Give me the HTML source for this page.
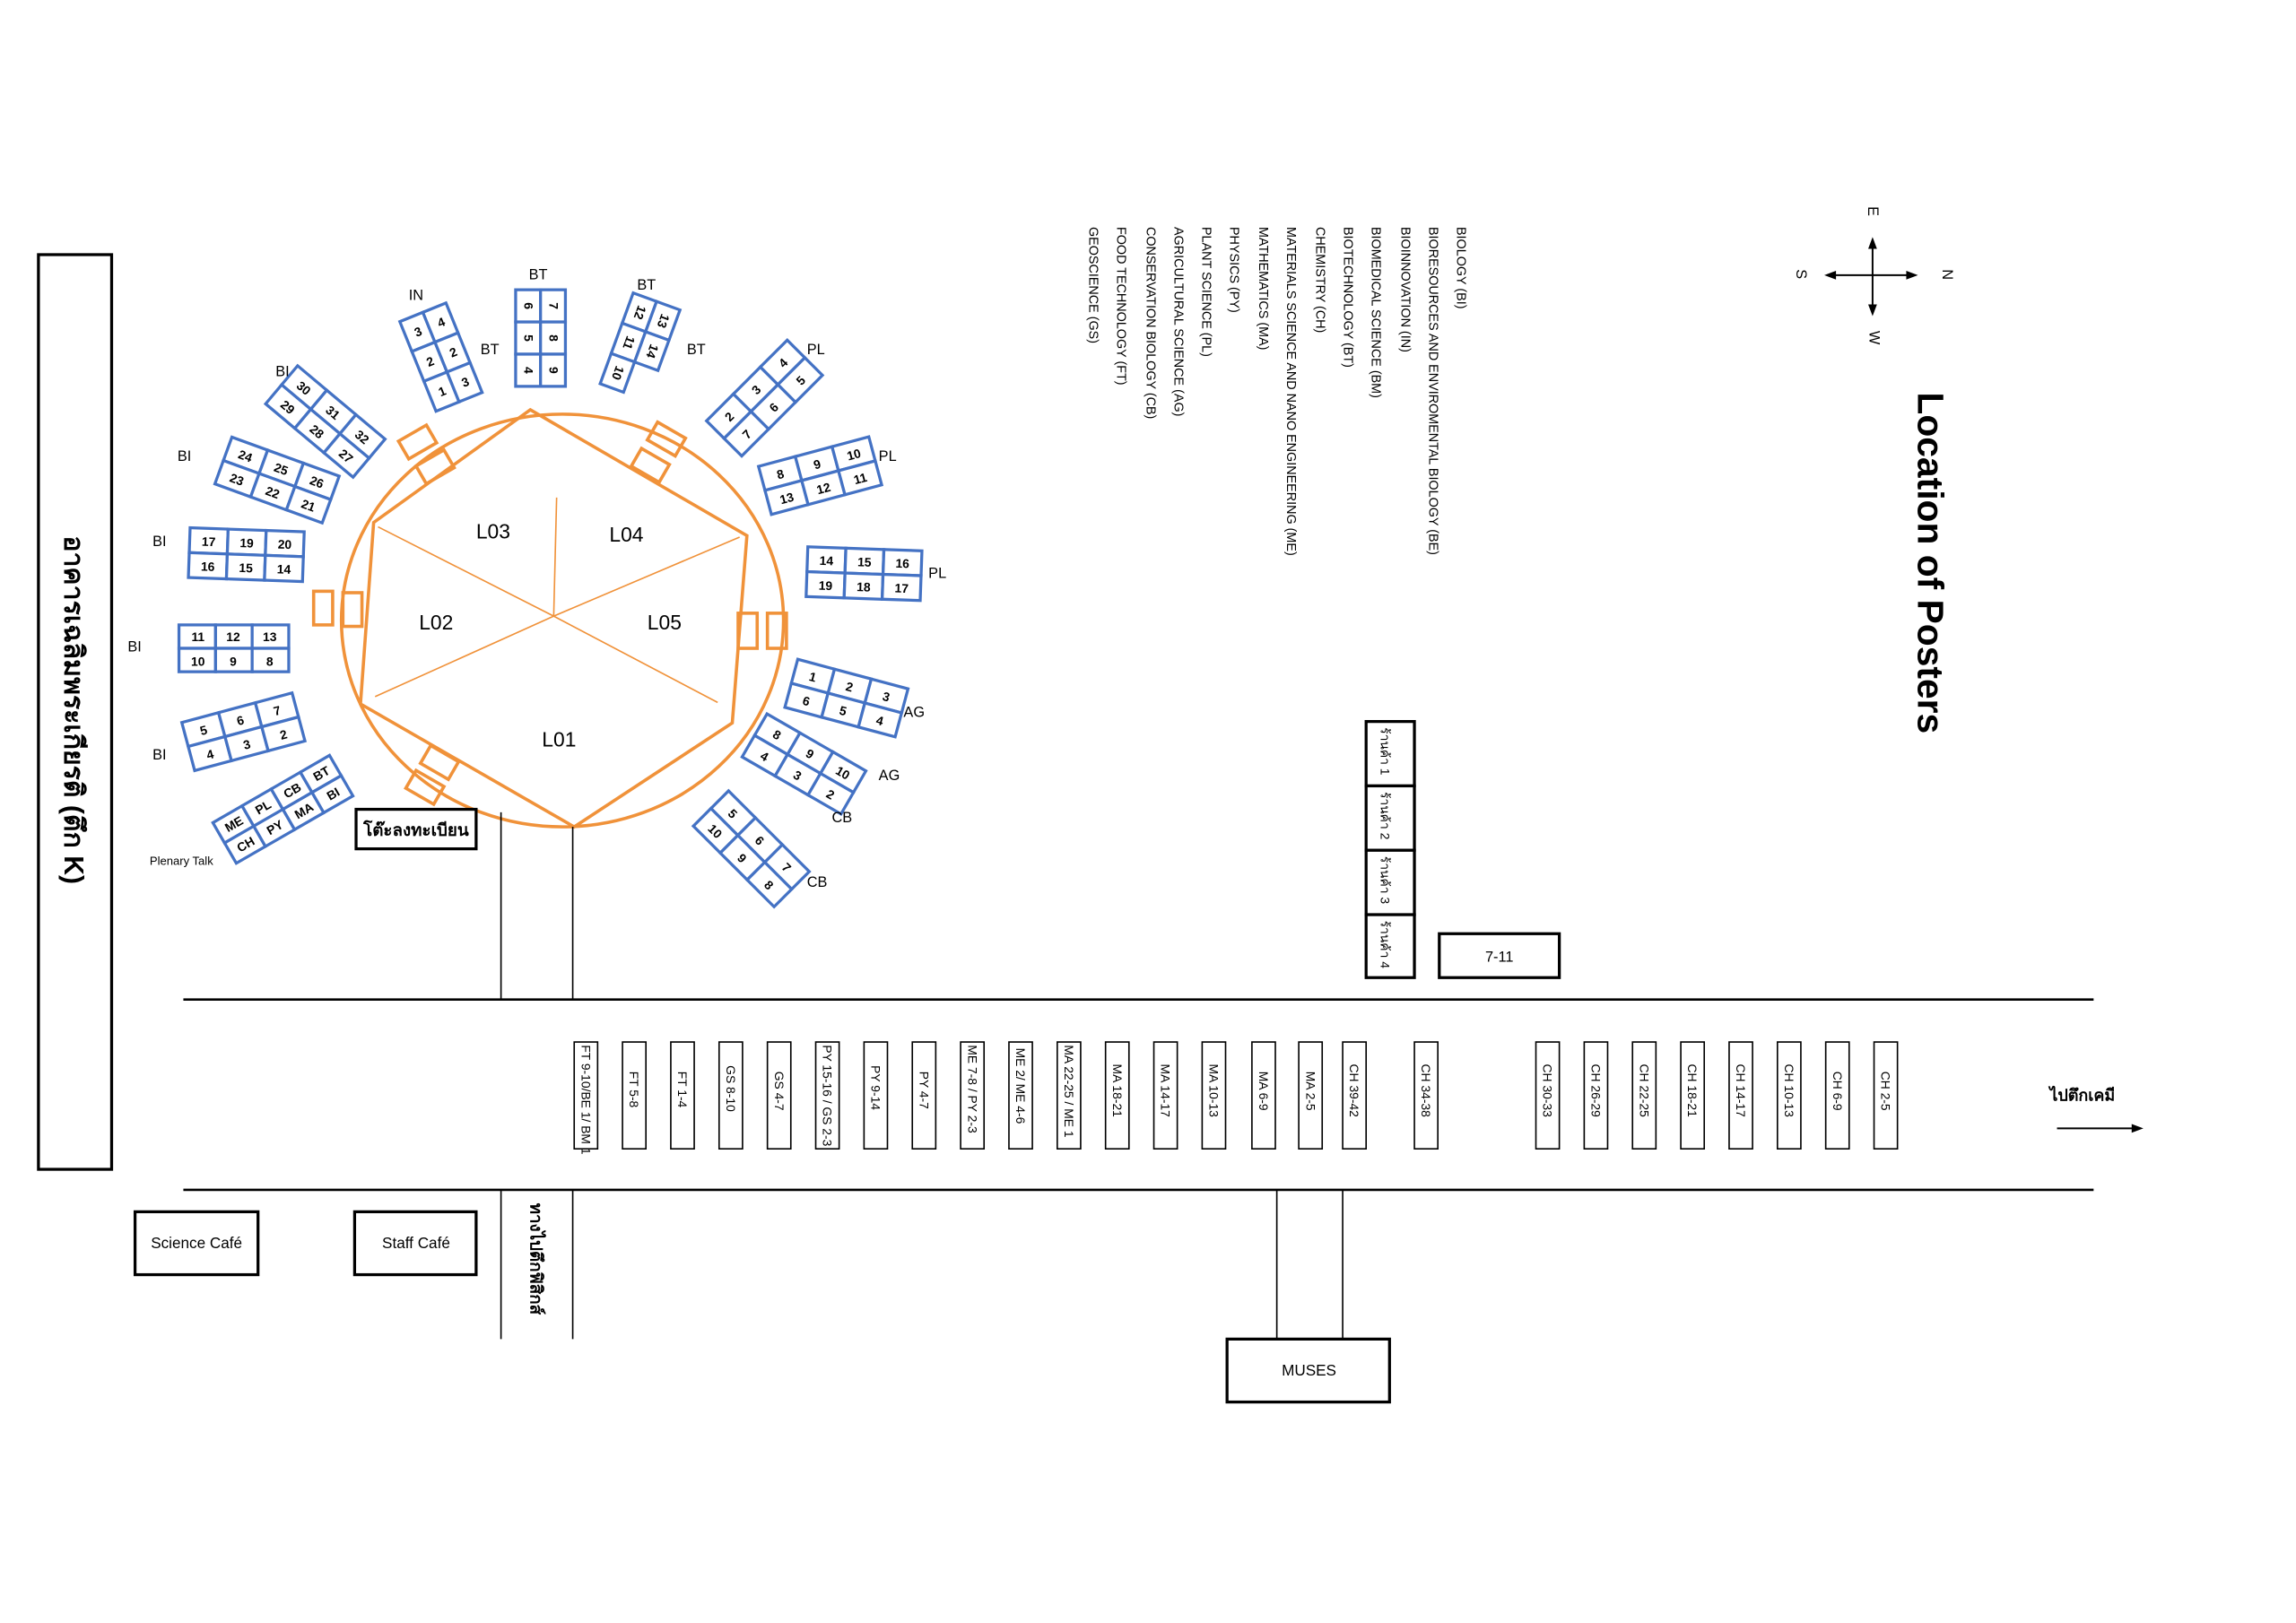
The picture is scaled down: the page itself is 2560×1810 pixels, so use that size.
<!DOCTYPE html>
<html><head><meta charset="utf-8"><style>
html,body{margin:0;padding:0;background:#fff}
svg{display:block}
text{font-family:"Liberation Sans","Noto Sans CJK SC",sans-serif}
.b rect{fill:#fff;stroke:#4472C4;stroke-width:2}
.b text{font-size:8.5px;text-anchor:middle;fill:#000;font-weight:bold}
.o{fill:none;stroke:#F0923A;stroke-width:2.2}
.lg{font-size:8.8px}
.pb rect{fill:#fff;stroke:#000;stroke-width:1}
.pb text{font-size:8.5px}
</style></head><body>
<svg width="2560" height="1810" viewBox="0 0 1568 1109" xmlns="http://www.w3.org/2000/svg">
<!-- building -->
<rect x="26" y="174" width="50" height="625" fill="none" stroke="#000" stroke-width="2"/>
<text transform="translate(44,366) rotate(90)" font-size="18.5" font-weight="bold">อาคารเฉลิมพระเกียรติ (ตึก K)</text>

<!-- circle & hexagon -->
<ellipse class="o" cx="384" cy="424" rx="151" ry="141"/>
<polygon class="o" points="362,280 510,366 500,494 392,565 246,481 255,357"/>
<g stroke="#F0923A" stroke-width="1">
<line x1="378" y1="421" x2="380" y2="340"/><line x1="378" y1="421" x2="258" y2="360"/>
<line x1="378" y1="421" x2="505" y2="367"/><line x1="378" y1="421" x2="256" y2="476"/>
<line x1="378" y1="421" x2="490" y2="480"/></g>
<g font-size="14"><text x="325" y="368">L03</text><text x="416" y="370">L04</text><text x="286" y="430">L02</text><text x="442" y="430">L05</text><text x="370" y="510">L01</text></g>
<!-- doors -->
<g class="o">
<rect x="-11" y="-7" width="22" height="14" transform="translate(285,302) rotate(-30)"/>
<rect x="-11" y="-7" width="22" height="14" transform="translate(297,319) rotate(-30)"/>
<rect x="-11" y="-7" width="22" height="14" transform="translate(455,300) rotate(30)"/>
<rect x="-11" y="-7" width="22" height="14" transform="translate(444,318) rotate(30)"/>
<rect x="214" y="404" width="13" height="23"/><rect x="234" y="405" width="13" height="23"/>
<rect x="504" y="419" width="13" height="24"/><rect x="524" y="419" width="13" height="24"/>
<rect x="-11" y="-7" width="22" height="14" transform="translate(300,521) rotate(30)"/>
<rect x="-11" y="-7" width="22" height="14" transform="translate(290,538) rotate(30)"/>
</g>

<!-- booths -->
<g class="b">
<g transform="translate(159,443)"><rect x="-37" y="-16" width="25" height="16"/><rect x="-12" y="-16" width="25" height="16"/><rect x="13" y="-16" width="25" height="16"/><rect x="-37" y="0" width="25" height="16"/><rect x="-12" y="0" width="25" height="16"/><rect x="13" y="0" width="25" height="16"/>
<text x="-24" y="-5" font-weight="normal">11</text><text x="0" y="-5" font-weight="normal">12</text><text x="25" y="-5" font-weight="normal">13</text><text x="-24" y="12" font-weight="normal">10</text><text x="0" y="12" font-weight="normal">9</text><text x="25" y="12" font-weight="normal">8</text></g>
<g transform="translate(168,379) rotate(2)"><rect x="-39" y="-17" width="26" height="17"/><rect x="-13" y="-17" width="26" height="17"/><rect x="13" y="-17" width="26" height="17"/><rect x="-39" y="0" width="26" height="17"/><rect x="-13" y="0" width="26" height="17"/><rect x="13" y="0" width="26" height="17"/>
<text x="-26" y="-5">17</text><text x="0" y="-5">19</text><text x="26" y="-5">20</text><text x="-26" y="12">16</text><text x="0" y="12">15</text><text x="26" y="12">14</text></g>
<g transform="translate(189,328) rotate(20)"><rect x="-39" y="-17" width="26" height="17"/><rect x="-13" y="-17" width="26" height="17"/><rect x="13" y="-17" width="26" height="17"/><rect x="-39" y="0" width="26" height="17"/><rect x="-13" y="0" width="26" height="17"/><rect x="13" y="0" width="26" height="17"/>
<text x="-26" y="-5">24</text><text x="0" y="-5">25</text><text x="26" y="-5">26</text><text x="-26" y="12">23</text><text x="0" y="12">22</text><text x="26" y="12">21</text></g>
<g transform="translate(222,288) rotate(40)"><rect x="-39" y="-17" width="26" height="17"/><rect x="-13" y="-17" width="26" height="17"/><rect x="13" y="-17" width="26" height="17"/><rect x="-39" y="0" width="26" height="17"/><rect x="-13" y="0" width="26" height="17"/><rect x="13" y="0" width="26" height="17"/>
<text x="-26" y="-5">30</text><text x="0" y="-5">31</text><text x="26" y="-5">32</text><text x="-26" y="12">29</text><text x="0" y="12">28</text><text x="26" y="12">27</text></g>
<g transform="translate(301,244) rotate(-22)"><rect x="-17" y="-33" width="17" height="22"/><rect x="0" y="-33" width="17" height="22"/><rect x="-17" y="-11" width="17" height="22"/><rect x="0" y="-11" width="17" height="22"/><rect x="-17" y="11" width="17" height="22"/><rect x="0" y="11" width="17" height="22"/>
<text x="-8" y="-19">3</text><text x="9" y="-19">4</text><text x="-8" y="3">2</text><text x="9" y="3">2</text><text x="-8" y="25">1</text><text x="9" y="25">3</text></g>
<g transform="translate(369,231)"><rect x="-17" y="-33" width="17" height="22"/><rect x="0" y="-33" width="17" height="22"/><rect x="-17" y="-11" width="17" height="22"/><rect x="0" y="-11" width="17" height="22"/><rect x="-17" y="11" width="17" height="22"/><rect x="0" y="11" width="17" height="22"/>
<g font-weight="normal"><text transform="translate(-11,-22) rotate(90)">6</text><text transform="translate(6,-22) rotate(90)">7</text><text transform="translate(-11,0) rotate(90)">5</text><text transform="translate(6,0) rotate(90)">8</text><text transform="translate(-11,22) rotate(90)">4</text><text transform="translate(6,22) rotate(90)">9</text></g></g>
<g transform="translate(437,237) rotate(20)"><rect x="-17" y="-33" width="17" height="22"/><rect x="0" y="-33" width="17" height="22"/><rect x="-17" y="-11" width="17" height="22"/><rect x="0" y="-11" width="17" height="22"/><rect x="-17" y="11" width="17" height="22"/>
<text transform="translate(-11,-22) rotate(90)">12</text><text transform="translate(6,-22) rotate(90)">13</text><text transform="translate(-11,0) rotate(90)">11</text><text transform="translate(6,0) rotate(90)">14</text><text transform="translate(-11,22) rotate(90)">10</text></g>
<g transform="translate(522,272) rotate(-45)"><rect x="-39" y="-17" width="26" height="17"/><rect x="-13" y="-17" width="26" height="17"/><rect x="13" y="-17" width="26" height="17"/><rect x="-39" y="0" width="26" height="17"/><rect x="-13" y="0" width="26" height="17"/><rect x="13" y="0" width="26" height="17"/>
<text x="-26" y="-5">2</text><text x="0" y="-5">3</text><text x="26" y="-5">4</text><text x="-26" y="12">7</text><text x="0" y="12">6</text><text x="26" y="12">5</text></g>
<g transform="translate(560,325) rotate(-15)"><rect x="-39" y="-17" width="26" height="17"/><rect x="-13" y="-17" width="26" height="17"/><rect x="13" y="-17" width="26" height="17"/><rect x="-39" y="0" width="26" height="17"/><rect x="-13" y="0" width="26" height="17"/><rect x="13" y="0" width="26" height="17"/>
<text x="-26" y="-5">8</text><text x="0" y="-5">9</text><text x="26" y="-5">10</text><text x="-26" y="12">13</text><text x="0" y="12">12</text><text x="26" y="12">11</text></g>
<g transform="translate(590,392) rotate(2)"><rect x="-39" y="-17" width="26" height="17"/><rect x="-13" y="-17" width="26" height="17"/><rect x="13" y="-17" width="26" height="17"/><rect x="-39" y="0" width="26" height="17"/><rect x="-13" y="0" width="26" height="17"/><rect x="13" y="0" width="26" height="17"/>
<text x="-26" y="-5">14</text><text x="0" y="-5">15</text><text x="26" y="-5">16</text><text x="-26" y="12">19</text><text x="0" y="12">18</text><text x="26" y="12">17</text></g>
<g transform="translate(578,477) rotate(15)"><rect x="-39" y="-17" width="26" height="17"/><rect x="-13" y="-17" width="26" height="17"/><rect x="13" y="-17" width="26" height="17"/><rect x="-39" y="0" width="26" height="17"/><rect x="-13" y="0" width="26" height="17"/><rect x="13" y="0" width="26" height="17"/>
<text x="-26" y="-5">1</text><text x="0" y="-5">2</text><text x="26" y="-5">3</text><text x="-26" y="12">6</text><text x="0" y="12">5</text><text x="26" y="12">4</text></g>
<g transform="translate(549,522) rotate(30)"><rect x="-39" y="-17" width="26" height="17"/><rect x="-13" y="-17" width="26" height="17"/><rect x="13" y="-17" width="26" height="17"/><rect x="-39" y="0" width="26" height="17"/><rect x="-13" y="0" width="26" height="17"/><rect x="13" y="0" width="26" height="17"/>
<text x="-26" y="-5">8</text><text x="0" y="-5">9</text><text x="26" y="-5">10</text><text x="-26" y="12">4</text><text x="0" y="12">3</text><text x="26" y="12">2</text></g>
<g transform="translate(513,580) rotate(45)"><rect x="-39" y="-17" width="26" height="17"/><rect x="-13" y="-17" width="26" height="17"/><rect x="13" y="-17" width="26" height="17"/><rect x="-39" y="0" width="26" height="17"/><rect x="-13" y="0" width="26" height="17"/><rect x="13" y="0" width="26" height="17"/>
<text x="-26" y="-5">5</text><text x="0" y="-5">6</text><text x="26" y="-5">7</text><text x="-26" y="12">10</text><text x="0" y="12">9</text><text x="26" y="12">8</text></g>
<g transform="translate(166,500) rotate(-15)"><rect x="-39" y="-17" width="26" height="17"/><rect x="-13" y="-17" width="26" height="17"/><rect x="13" y="-17" width="26" height="17"/><rect x="-39" y="0" width="26" height="17"/><rect x="-13" y="0" width="26" height="17"/><rect x="13" y="0" width="26" height="17"/>
<text x="-26" y="-5">5</text><text x="0" y="-5">6</text><text x="26" y="-5">7</text><text x="-26" y="12">4</text><text x="0" y="12">3</text><text x="26" y="12">2</text></g>
<g transform="translate(193,553) rotate(-30)"><rect x="-46" y="-16" width="23" height="16"/><rect x="-23" y="-16" width="23" height="16"/><rect x="0" y="-16" width="23" height="16"/><rect x="23" y="-16" width="23" height="16"/><rect x="-46" y="0" width="23" height="16"/><rect x="-23" y="0" width="23" height="16"/><rect x="0" y="0" width="23" height="16"/><rect x="23" y="0" width="23" height="16"/>
<g font-size="7"><text x="-34" y="-5">ME</text><text x="-11" y="-5">PL</text><text x="12" y="-5">CB</text><text x="35" y="-5">BT</text><text x="-34" y="11">CH</text><text x="-11" y="11">PY</text><text x="12" y="11">MA</text><text x="35" y="11">BI</text></g></g>
</g>
<!-- booth labels -->
<g font-size="10">
<text x="87" y="445">BI</text><text x="104" y="373">BI</text><text x="121" y="315">BI</text><text x="188" y="257">BI</text><text x="104" y="519">BI</text>
<text x="279" y="205">IN</text><text x="328" y="242">BT</text><text x="361" y="191">BT</text><text x="435" y="198">BT</text><text x="469" y="242">BT</text>
<text x="551" y="242">PL</text><text x="600" y="315">PL</text><text x="634" y="395">PL</text>
<text x="617" y="490">AG</text><text x="600" y="533">AG</text><text x="568" y="562">CB</text><text x="551" y="606">CB</text>
</g>
<text x="102" y="591" font-size="8">Plenary Talk</text>
<rect x="243" y="553" width="82" height="27" fill="#fff" stroke="#000" stroke-width="2"/>
<text x="284" y="571" font-size="11.5" font-weight="bold" text-anchor="middle">โต๊ะลงทะเบียน</text>
<g stroke="#000" stroke-width="1"><line x1="342" y1="555" x2="342" y2="683"/><line x1="391" y1="565" x2="391" y2="683"/>
<line x1="342" y1="813" x2="342" y2="915"/><line x1="391" y1="813" x2="391" y2="915"/>
<line x1="872" y1="813" x2="872" y2="915"/><line x1="917" y1="813" x2="917" y2="915"/></g>
<g stroke="#000" stroke-width="1.6"><line x1="125" y1="683" x2="1430" y2="683"/><line x1="125" y1="813" x2="1430" y2="813"/></g>

<!-- legend -->
<g class="lg">
<text transform="translate(995,155) rotate(90)">BIOLOGY (BI)</text>
<text transform="translate(976,155) rotate(90)">BIORESOURCES AND ENVIROMENTAL BIOLOGY (BE)</text>
<text transform="translate(957,155) rotate(90)">BIOINNOVATION  (IN)</text>
<text transform="translate(937,155) rotate(90)">BIOMEDICAL SCIENCE (BM)</text>
<text transform="translate(918,155) rotate(90)">BIOTECHNOLOGY (BT)</text>
<text transform="translate(899,155) rotate(90)">CHEMISTRY (CH)</text>
<text transform="translate(879,155) rotate(90)">MATERIALS SCIENCE AND NANO ENGINEERING (ME)</text>
<text transform="translate(860,155) rotate(90)">MATHEMATICS (MA)</text>
<text transform="translate(840,155) rotate(90)">PHYSICS (PY)</text>
<text transform="translate(821,155) rotate(90)">PLANT SCIENCE (PL)</text>
<text transform="translate(802,155) rotate(90)">AGRICULTURAL SCIENCE (AG)</text>
<text transform="translate(783,155) rotate(90)">CONSERVATION BIOLOGY (CB)</text>
<text transform="translate(763,155) rotate(90)">FOOD TECHNOLOGY (FT)</text>
<text transform="translate(744,155) rotate(90)">GEOSCIENCE (GS)</text>
</g>
<text transform="translate(1310,268) rotate(90)" font-size="25" font-weight="bold">Location of Posters</text>
<!-- compass -->
<g stroke="#000" stroke-width="1.2"><line x1="1248" y1="188" x2="1308" y2="188"/><line x1="1279" y1="164" x2="1279" y2="214"/></g>
<g fill="#000"><polygon points="1279,162 1276,170 1282,170"/><polygon points="1279,216 1276,208 1282,208"/><polygon points="1246,188 1254,185 1254,191"/><polygon points="1310,188 1302,185 1302,191"/></g>
<g font-size="10"><text transform="translate(1276,141) rotate(90)">E</text><text transform="translate(1277,226) rotate(90)">W</text><text transform="translate(1227,184) rotate(90)">S</text><text transform="translate(1327,184) rotate(90)">N</text></g>

<!-- shops -->
<g fill="#fff" stroke="#000" stroke-width="2"><rect x="933" y="493" width="33" height="44"/><rect x="933" y="537" width="33" height="44"/><rect x="933" y="581" width="33" height="44"/><rect x="933" y="625" width="33" height="43"/><rect x="983" y="638" width="82" height="30"/></g>
<g font-size="8.5"><text transform="translate(943,497) rotate(90)">ร้านค้า 1</text><text transform="translate(943,541) rotate(90)">ร้านค้า 2</text><text transform="translate(943,585) rotate(90)">ร้านค้า 3</text><text transform="translate(943,629) rotate(90)">ร้านค้า 4</text></g>
<text x="1024" y="657" font-size="10" text-anchor="middle">7-11</text>

<!-- poster boards -->
<g class="pb">
<rect x="392" y="712" width="16" height="73"/><rect x="425" y="712" width="16" height="73"/><rect x="458" y="712" width="16" height="73"/><rect x="491" y="712" width="16" height="73"/><rect x="524" y="712" width="16" height="73"/><rect x="557" y="712" width="16" height="73"/><rect x="590" y="712" width="16" height="73"/><rect x="623" y="712" width="16" height="73"/><rect x="656" y="712" width="16" height="73"/><rect x="689" y="712" width="16" height="73"/><rect x="722" y="712" width="16" height="73"/><rect x="755" y="712" width="16" height="73"/><rect x="788" y="712" width="16" height="73"/><rect x="821" y="712" width="16" height="73"/><rect x="855" y="712" width="16" height="73"/><rect x="887" y="712" width="16" height="73"/><rect x="917" y="712" width="16" height="73"/><rect x="966" y="712" width="16" height="73"/><rect x="1049" y="712" width="16" height="73"/><rect x="1082" y="712" width="16" height="73"/><rect x="1115" y="712" width="16" height="73"/><rect x="1148" y="712" width="16" height="73"/><rect x="1181" y="712" width="16" height="73"/><rect x="1214" y="712" width="16" height="73"/><rect x="1247" y="712" width="16" height="73"/><rect x="1280" y="712" width="16" height="73"/>
<text transform="translate(397,714) rotate(90)" font-size="6.5">FT 9-10/BE 1/ BM 1</text>
<text transform="translate(430,732) rotate(90)">FT 5-8</text>
<text transform="translate(463,732) rotate(90)">FT 1-4</text>
<text transform="translate(496,728) rotate(90)">GS 8-10</text>
<text transform="translate(529,732) rotate(90)">GS 4-7</text>
<text transform="translate(562,714) rotate(90)" font-size="7.5">PY 15-16 / GS 2-3</text>
<text transform="translate(595,728) rotate(90)">PY 9-14</text>
<text transform="translate(628,732) rotate(90)">PY 4-7</text>
<text transform="translate(661,714) rotate(90)" font-size="7.5">ME 7-8 / PY 2-3</text>
<text transform="translate(694,716) rotate(90)">ME 2/ ME 4-6</text>
<text transform="translate(727,714) rotate(90)" font-size="7.5">MA 22-25 / ME 1</text>
<text transform="translate(760,727) rotate(90)">MA 18-21</text>
<text transform="translate(793,727) rotate(90)">MA 14-17</text>
<text transform="translate(826,727) rotate(90)">MA 10-13</text>
<text transform="translate(860,732) rotate(90)">MA 6-9</text>
<text transform="translate(892,732) rotate(90)">MA 2-5</text>
<text transform="translate(922,727) rotate(90)">CH 39-42</text>
<text transform="translate(971,727) rotate(90)">CH 34-38</text>
<text transform="translate(1054,727) rotate(90)">CH 30-33</text>
<text transform="translate(1087,727) rotate(90)">CH 26-29</text>
<text transform="translate(1120,727) rotate(90)">CH 22-25</text>
<text transform="translate(1153,727) rotate(90)">CH 18-21</text>
<text transform="translate(1186,727) rotate(90)">CH 14-17</text>
<text transform="translate(1219,727) rotate(90)">CH 10-13</text>
<text transform="translate(1252,732) rotate(90)">CH 6-9</text>
<text transform="translate(1285,732) rotate(90)">CH 2-5</text>
</g>
<text x="1400" y="752" font-size="11" font-weight="bold">ไปตึกเคมี</text>
<line x1="1405" y1="771" x2="1459" y2="771" stroke="#000" stroke-width="1.2"/><polygon points="1464,771 1456,768 1456,774" fill="#000"/>

<!-- bottom -->
<g fill="#fff" stroke="#000" stroke-width="2"><rect x="92" y="828" width="84" height="43"/><rect x="242" y="828" width="83" height="43"/><rect x="838" y="915" width="111" height="43"/></g>
<g font-size="10.5" text-anchor="middle"><text x="134" y="853">Science Café</text><text x="284" y="853">Staff Café</text><text x="894" y="940">MUSES</text></g>
<text transform="translate(362,822) rotate(90)" font-size="11.5" font-weight="bold">ทางไปตึกฟิสิกส์</text>
</svg>
</body></html>
